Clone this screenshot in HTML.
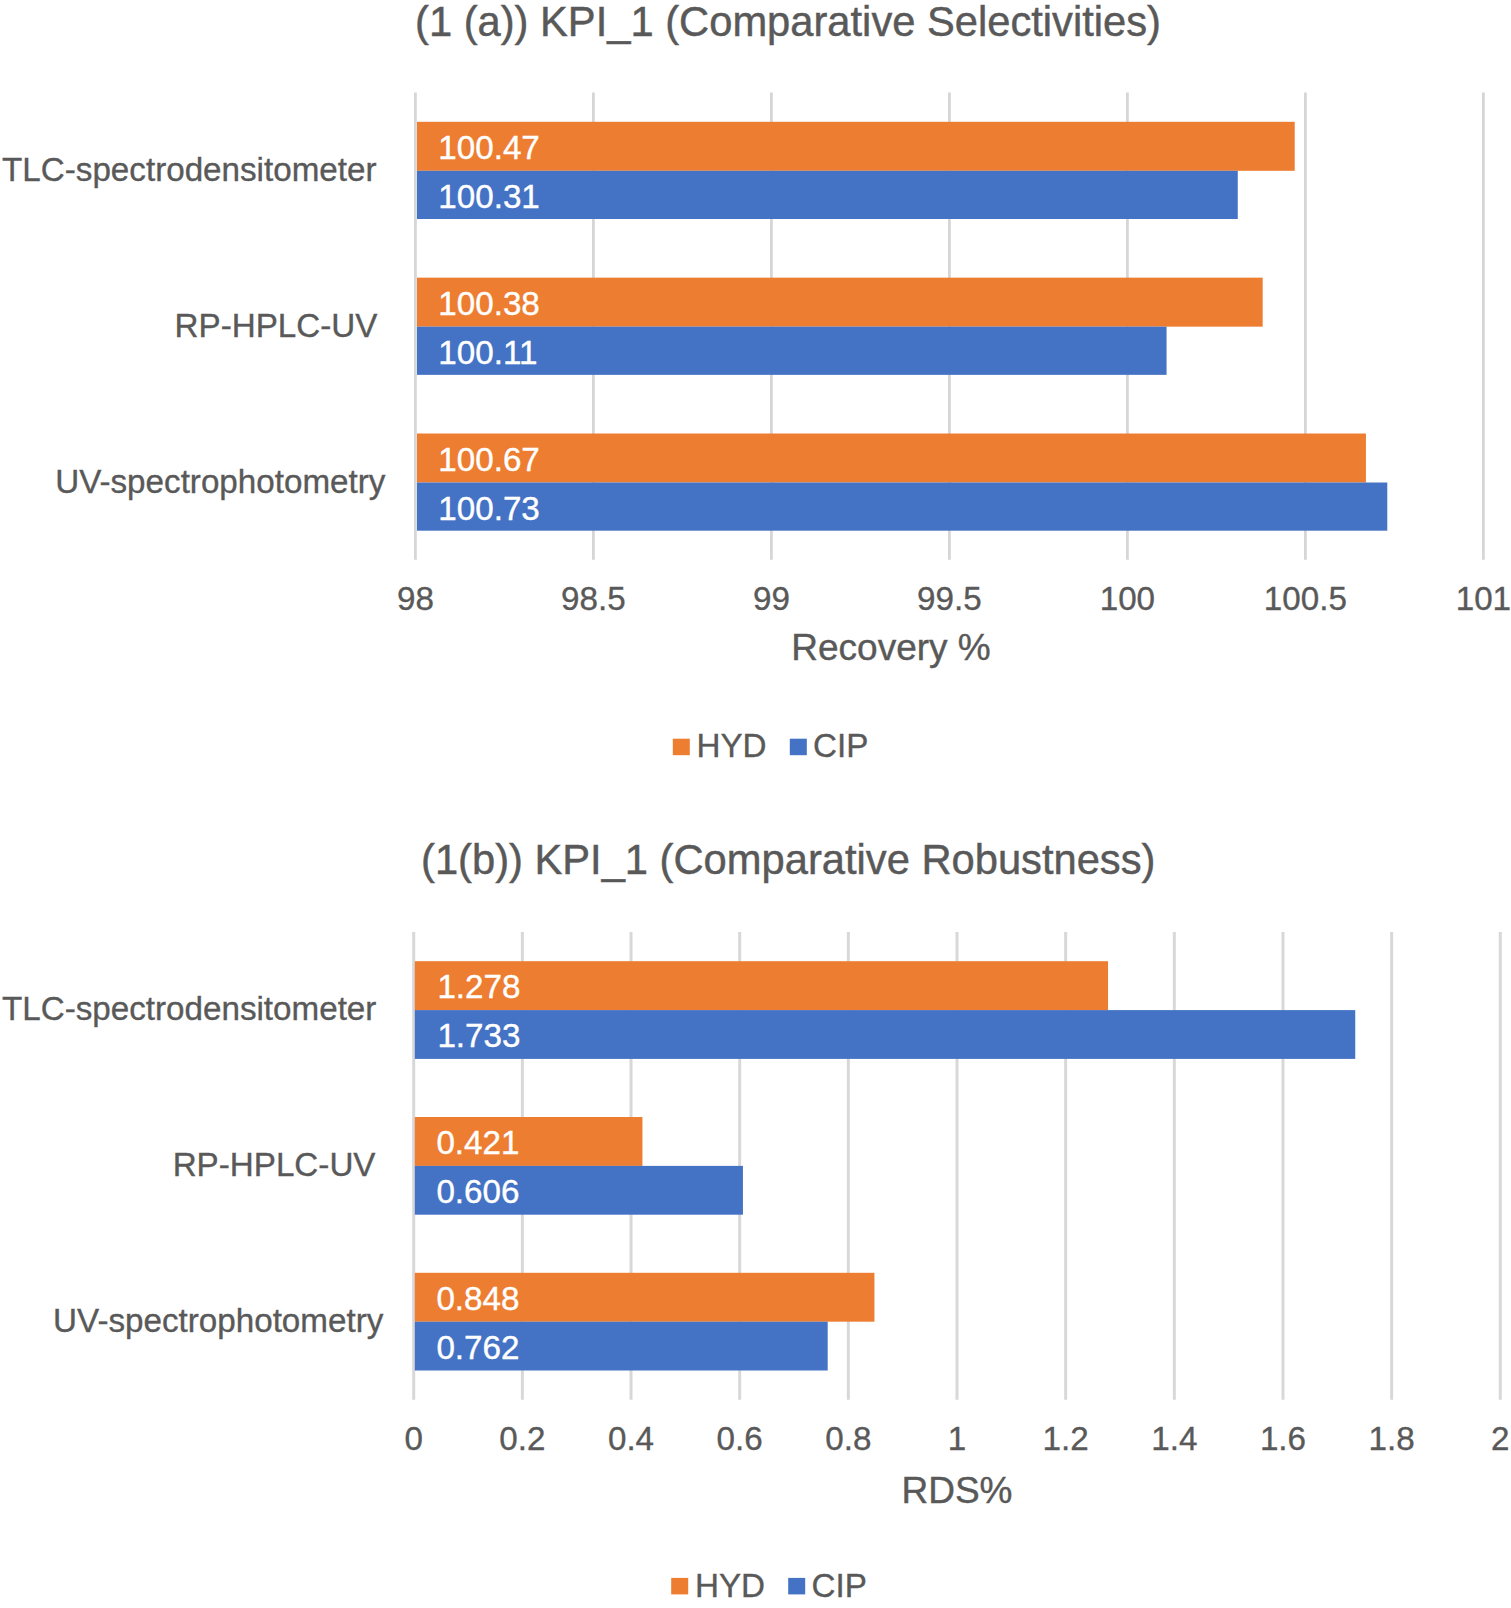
<!DOCTYPE html>
<html lang="en"><head><meta charset="utf-8"><title>KPI_1 charts</title>
<style>
html,body{margin:0;padding:0;background:#fff;}
body{width:1511px;height:1608px;overflow:hidden;}
svg{display:block;font-family:"Liberation Sans",sans-serif;}
</style></head><body>
<svg width="1511" height="1608" viewBox="0 0 1511 1608">
<rect width="1511" height="1608" fill="#ffffff"/>
<line x1="415.40" y1="92.6" x2="415.40" y2="559.7" stroke="#D6D6D6" stroke-width="2.8"/>
<line x1="593.40" y1="92.6" x2="593.40" y2="559.7" stroke="#D6D6D6" stroke-width="2.8"/>
<line x1="771.40" y1="92.6" x2="771.40" y2="559.7" stroke="#D6D6D6" stroke-width="2.8"/>
<line x1="949.40" y1="92.6" x2="949.40" y2="559.7" stroke="#D6D6D6" stroke-width="2.8"/>
<line x1="1127.40" y1="92.6" x2="1127.40" y2="559.7" stroke="#D6D6D6" stroke-width="2.8"/>
<line x1="1305.40" y1="92.6" x2="1305.40" y2="559.7" stroke="#D6D6D6" stroke-width="2.8"/>
<line x1="1483.40" y1="92.6" x2="1483.40" y2="559.7" stroke="#D6D6D6" stroke-width="2.8"/>
<rect x="417.0" y="121.8" width="877.72" height="49.00" fill="#ED7D31"/>
<rect x="417.0" y="170.8" width="820.76" height="48.20" fill="#4472C4"/>
<text x="438.3" y="159.00" fill="#fff" stroke="#fff" stroke-width="0.4" font-size="33.2">100.47</text>
<text x="438.3" y="208.00" fill="#fff" stroke="#fff" stroke-width="0.4" font-size="33.2">100.31</text>
<text x="376.5" y="181.20" fill="#595959" stroke="#595959" stroke-width="0.35" font-size="33.2" text-anchor="end">TLC-spectrodensitometer</text>
<rect x="417.0" y="277.65" width="845.68" height="49.00" fill="#ED7D31"/>
<rect x="417.0" y="326.65" width="749.56" height="48.20" fill="#4472C4"/>
<text x="438.3" y="314.85" fill="#fff" stroke="#fff" stroke-width="0.4" font-size="33.2">100.38</text>
<text x="438.3" y="363.85" fill="#fff" stroke="#fff" stroke-width="0.4" font-size="33.2">100.11</text>
<text x="377.4" y="337.05" fill="#595959" stroke="#595959" stroke-width="0.35" font-size="33.2" text-anchor="end">RP-HPLC-UV</text>
<rect x="417.0" y="433.5" width="948.92" height="49.00" fill="#ED7D31"/>
<rect x="417.0" y="482.5" width="970.28" height="48.20" fill="#4472C4"/>
<text x="438.3" y="470.70" fill="#fff" stroke="#fff" stroke-width="0.4" font-size="33.2">100.67</text>
<text x="438.3" y="519.70" fill="#fff" stroke="#fff" stroke-width="0.4" font-size="33.2">100.73</text>
<text x="385.4" y="492.90" fill="#595959" stroke="#595959" stroke-width="0.35" font-size="33.2" text-anchor="end">UV-spectrophotometry</text>
<text x="415.40" y="610.0" fill="#595959" stroke="#595959" stroke-width="0.35" font-size="33.2" text-anchor="middle">98</text>
<text x="593.40" y="610.0" fill="#595959" stroke="#595959" stroke-width="0.35" font-size="33.2" text-anchor="middle">98.5</text>
<text x="771.40" y="610.0" fill="#595959" stroke="#595959" stroke-width="0.35" font-size="33.2" text-anchor="middle">99</text>
<text x="949.40" y="610.0" fill="#595959" stroke="#595959" stroke-width="0.35" font-size="33.2" text-anchor="middle">99.5</text>
<text x="1127.40" y="610.0" fill="#595959" stroke="#595959" stroke-width="0.35" font-size="33.2" text-anchor="middle">100</text>
<text x="1305.40" y="610.0" fill="#595959" stroke="#595959" stroke-width="0.35" font-size="33.2" text-anchor="middle">100.5</text>
<text x="1483.40" y="610.0" fill="#595959" stroke="#595959" stroke-width="0.35" font-size="33.2" text-anchor="middle">101</text>
<text x="891" y="660" fill="#595959" stroke="#595959" stroke-width="0.4" font-size="37.0" text-anchor="middle">Recovery %</text>
<text x="415" y="35.7" fill="#595959" font-size="41.7" stroke="#595959" stroke-width="0.45">(1 (a)) KPI_1 (Comparative Selectivities)</text>
<rect x="672.8" y="738.7" width="17" height="16.5" fill="#ED7D31"/>
<text x="696.5" y="757.2" fill="#595959" stroke="#595959" stroke-width="0.35" font-size="33.2">HYD</text>
<rect x="789.8" y="738.7" width="17" height="16.5" fill="#4472C4"/>
<text x="813" y="757.2" fill="#595959" stroke="#595959" stroke-width="0.35" font-size="33.2">CIP</text>
<line x1="413.70" y1="932.1" x2="413.70" y2="1399.7" stroke="#D8D8D8" stroke-width="3"/>
<line x1="522.36" y1="932.1" x2="522.36" y2="1399.7" stroke="#D8D8D8" stroke-width="3"/>
<line x1="631.02" y1="932.1" x2="631.02" y2="1399.7" stroke="#D8D8D8" stroke-width="3"/>
<line x1="739.68" y1="932.1" x2="739.68" y2="1399.7" stroke="#D8D8D8" stroke-width="3"/>
<line x1="848.34" y1="932.1" x2="848.34" y2="1399.7" stroke="#D8D8D8" stroke-width="3"/>
<line x1="957.00" y1="932.1" x2="957.00" y2="1399.7" stroke="#D8D8D8" stroke-width="3"/>
<line x1="1065.66" y1="932.1" x2="1065.66" y2="1399.7" stroke="#D8D8D8" stroke-width="3"/>
<line x1="1174.32" y1="932.1" x2="1174.32" y2="1399.7" stroke="#D8D8D8" stroke-width="3"/>
<line x1="1282.98" y1="932.1" x2="1282.98" y2="1399.7" stroke="#D8D8D8" stroke-width="3"/>
<line x1="1391.64" y1="932.1" x2="1391.64" y2="1399.7" stroke="#D8D8D8" stroke-width="3"/>
<line x1="1500.30" y1="932.1" x2="1500.30" y2="1399.7" stroke="#D8D8D8" stroke-width="3"/>
<rect x="414.8" y="961.2" width="693.24" height="48.90" fill="#ED7D31"/>
<rect x="414.8" y="1010.1" width="940.44" height="48.80" fill="#4472C4"/>
<text x="437.4" y="998.30" fill="#fff" stroke="#fff" stroke-width="0.4" font-size="33.2">1.278</text>
<text x="437.4" y="1047.10" fill="#fff" stroke="#fff" stroke-width="0.4" font-size="33.2">1.733</text>
<text x="376.4" y="1020.30" fill="#595959" stroke="#595959" stroke-width="0.35" font-size="33.2" text-anchor="end">TLC-spectrodensitometer</text>
<rect x="414.8" y="1117.0" width="227.63" height="48.90" fill="#ED7D31"/>
<rect x="414.8" y="1165.9" width="328.14" height="48.80" fill="#4472C4"/>
<text x="436.4" y="1154.10" fill="#fff" stroke="#fff" stroke-width="0.4" font-size="33.2">0.421</text>
<text x="436.4" y="1202.90" fill="#fff" stroke="#fff" stroke-width="0.4" font-size="33.2">0.606</text>
<text x="375.5" y="1176.10" fill="#595959" stroke="#595959" stroke-width="0.35" font-size="33.2" text-anchor="end">RP-HPLC-UV</text>
<rect x="414.8" y="1272.8000000000002" width="459.62" height="48.90" fill="#ED7D31"/>
<rect x="414.8" y="1321.7000000000003" width="412.89" height="48.80" fill="#4472C4"/>
<text x="436.4" y="1309.90" fill="#fff" stroke="#fff" stroke-width="0.4" font-size="33.2">0.848</text>
<text x="436.4" y="1358.70" fill="#fff" stroke="#fff" stroke-width="0.4" font-size="33.2">0.762</text>
<text x="383.3" y="1331.90" fill="#595959" stroke="#595959" stroke-width="0.35" font-size="33.2" text-anchor="end">UV-spectrophotometry</text>
<text x="413.70" y="1449.5" fill="#595959" stroke="#595959" stroke-width="0.35" font-size="33.2" text-anchor="middle">0</text>
<text x="522.36" y="1449.5" fill="#595959" stroke="#595959" stroke-width="0.35" font-size="33.2" text-anchor="middle">0.2</text>
<text x="631.02" y="1449.5" fill="#595959" stroke="#595959" stroke-width="0.35" font-size="33.2" text-anchor="middle">0.4</text>
<text x="739.68" y="1449.5" fill="#595959" stroke="#595959" stroke-width="0.35" font-size="33.2" text-anchor="middle">0.6</text>
<text x="848.34" y="1449.5" fill="#595959" stroke="#595959" stroke-width="0.35" font-size="33.2" text-anchor="middle">0.8</text>
<text x="957.00" y="1449.5" fill="#595959" stroke="#595959" stroke-width="0.35" font-size="33.2" text-anchor="middle">1</text>
<text x="1065.66" y="1449.5" fill="#595959" stroke="#595959" stroke-width="0.35" font-size="33.2" text-anchor="middle">1.2</text>
<text x="1174.32" y="1449.5" fill="#595959" stroke="#595959" stroke-width="0.35" font-size="33.2" text-anchor="middle">1.4</text>
<text x="1282.98" y="1449.5" fill="#595959" stroke="#595959" stroke-width="0.35" font-size="33.2" text-anchor="middle">1.6</text>
<text x="1391.64" y="1449.5" fill="#595959" stroke="#595959" stroke-width="0.35" font-size="33.2" text-anchor="middle">1.8</text>
<text x="1500.30" y="1449.5" fill="#595959" stroke="#595959" stroke-width="0.35" font-size="33.2" text-anchor="middle">2</text>
<text x="957" y="1503" fill="#595959" stroke="#595959" stroke-width="0.4" font-size="37.0" text-anchor="middle">RDS%</text>
<text x="421" y="874.4" fill="#595959" font-size="41.7" stroke="#595959" stroke-width="0.45">(1(b)) KPI_1 (Comparative Robustness)</text>
<rect x="671.2" y="1577.9" width="17" height="16.5" fill="#ED7D31"/>
<text x="695" y="1597.2" fill="#595959" stroke="#595959" stroke-width="0.35" font-size="33.2">HYD</text>
<rect x="788.2" y="1577.9" width="17" height="16.5" fill="#4472C4"/>
<text x="811.5" y="1597.2" fill="#595959" stroke="#595959" stroke-width="0.35" font-size="33.2">CIP</text>
</svg>
</body></html>
